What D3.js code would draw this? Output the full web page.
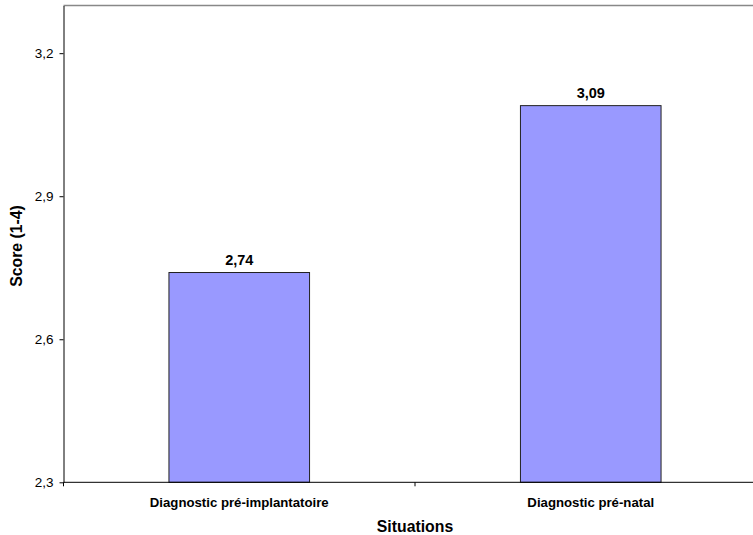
<!DOCTYPE html>
<html><head><meta charset="utf-8">
<script src="https://cdn.jsdelivr.net/npm/d3@7"></script>
<style>body{margin:0;background:#fff}svg{display:block;font-family:"Liberation Sans",Arial,sans-serif}</style>
</head><body><svg id="c" width="753" height="535"></svg>
<script>
const categories = ["Diagnostic pré-implantatoire", "Diagnostic pré-natal"];
const values = [2.74, 3.09];
const yTicks = [2.3, 2.6, 2.9, 3.2];
const yTitle = "Score (1-4)";
const xTitle = "Situations";

const svg = d3.select("#c");
const L = 63.5, T = 5.5, R = 766.5, B = 482.3;
const x = d3.scaleBand().domain(categories).range([L, R]).paddingInner(0.6).paddingOuter(0.3);
const y = d3.scaleLinear().domain([2.3, 3.3]).range([B, T]);
const fmt = d => d3.format(".1f")(d).replace(".", ",");

// top border
svg.append("line").attr("x1", L).attr("x2", 753).attr("y1", T).attr("y2", T)
  .attr("stroke", "#888").attr("stroke-width", 1.5);

// bars
svg.selectAll("rect.bar").data(values).join("rect")
  .attr("x", (d, i) => x(categories[i])).attr("width", x.bandwidth())
  .attr("y", d => y(d)).attr("height", d => B - y(d))
  .attr("fill", "#9999FF").attr("stroke", "#222").attr("stroke-width", 1);

svg.selectAll("text.val").data(values).join("text")
  .attr("x", (d, i) => x(categories[i]) + x.bandwidth() / 2)
  .attr("y", d => y(d) - 7.5)
  .attr("text-anchor", "middle").attr("font-size", 14.5).attr("font-weight", "bold")
  .text(d => d3.format(".2f")(d).replace(".", ","));

// y axis
const ya = svg.append("g").attr("transform", `translate(${L},0)`)
  .call(d3.axisLeft(y).tickValues(yTicks).tickFormat(fmt).tickSize(4).tickSizeOuter(0).tickPadding(6));
ya.select(".domain").attr("stroke", "#000");
ya.selectAll("line").attr("stroke", "#000");
ya.selectAll("text").attr("font-size", 13.5).attr("font-family", "Liberation Sans, Arial, sans-serif").attr("fill", "#000");

// x axis
const xa = svg.append("g").attr("transform", `translate(0,${B})`);
xa.append("line").attr("x1", L).attr("x2", R).attr("stroke", "#000");
const mid = (x(categories[0]) + x.bandwidth() + x(categories[1])) / 2;
[L, mid, R].forEach(p => xa.append("line").attr("x1", p).attr("x2", p).attr("y1", 0).attr("y2", 4).attr("stroke", "#000"));
categories.forEach(c => xa.append("text").attr("x", x(c) + x.bandwidth() / 2).attr("y", 24.5)
  .attr("text-anchor", "middle").attr("font-size", 13.2).attr("font-weight", "bold").text(c));

// titles
svg.append("text").attr("x", 415).attr("y", 531.5).attr("text-anchor", "middle")
  .attr("font-size", 15.8).attr("font-weight", "bold").text(xTitle);
svg.append("text").attr("transform", "translate(22,246) rotate(-90)").attr("text-anchor", "middle")
  .attr("font-size", 15.8).attr("font-weight", "bold").text(yTitle);
</script></body></html>
